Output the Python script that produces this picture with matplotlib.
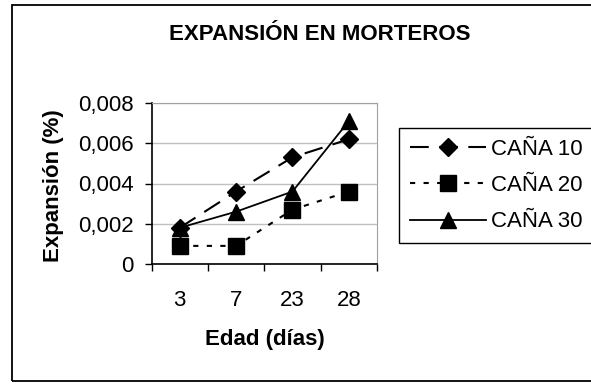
import numpy as np
import matplotlib
matplotlib.use("Agg")
import matplotlib.pyplot as plt
from matplotlib.ticker import FuncFormatter, FixedLocator
from matplotlib.patches import Rectangle

plt.rcParams['font.family'] = ['Liberation Sans', 'DejaVu Sans']

# Data
edades = ["3", "7", "23", "28"]
cana10 = [0.0018, 0.0036, 0.0053, 0.0062]
cana20 = [0.0009, 0.0009, 0.0027, 0.0036]
cana30 = [0.0018, 0.0026, 0.0036, 0.0071]
series_names = ["CAÑA 10", "CAÑA 20", "CAÑA 30"]

W, H = 591, 384
fig = plt.figure(figsize=(W/100, H/100), dpi=100)
ax = fig.add_axes([151.5/W, 1-264/H, (377-151.5)/W, (264-103)/H])

x = np.arange(len(edades))
ax.plot(x, cana10, color="black", lw=1.5, dashes=(9, 5), marker="D", ms=9,
        label=series_names[0])
ax.plot(x, cana20, color="black", lw=1.5, dashes=(2.5, 4), marker="s", ms=11,
        label=series_names[1])
ax.plot(x, cana30, color="black", lw=1.3, ls="-", marker="^", ms=11,
        label=series_names[2])

ax.set_xlim(-0.5, 3.5)
ax.set_ylim(0, 0.008)

# category axis: ticks between categories, labels centred
ax.xaxis.set_major_locator(FixedLocator(np.arange(-0.5, 4, 1)))
ax.xaxis.set_minor_locator(FixedLocator(x))
ax.set_xticklabels([], minor=False)
ax.set_xticklabels(edades, minor=True)
ax.tick_params(axis="x", which="major", direction="out", length=5, width=1, color="black")
ax.tick_params(axis="x", which="minor", length=0, pad=19, labelsize=16)

ax.set_yticks(np.arange(0, 0.0081, 0.002))
ax.yaxis.set_major_formatter(FuncFormatter(
    lambda v, p: "0" if v == 0 else ("%.3f" % v).replace(".", ",")))
ax.tick_params(axis="y", direction="out", length=5, width=1, pad=8, labelsize=16)

ax.grid(axis="y", color="#c0c0c0", lw=1)
ax.set_axisbelow(True)
for s in ["top", "right"]:
    ax.spines[s].set_color("#a0a0a0")
for s in ["left", "bottom"]:
    ax.spines[s].set_color("black")
    ax.spines[s].set_linewidth(1.2)

fig.text(320/W, 1-35/H, "EXPANSIÓN EN MORTEROS", ha="center", va="center",
         fontsize=16, fontweight="bold")
fig.text(265/W, 1-340/H, "Edad (días)", ha="center", va="center",
         fontsize=16, fontweight="bold")
fig.text(54/W, 1-186/H, "Expansión (%)", ha="center", va="center",
         rotation=90, fontsize=16, fontweight="bold")

leg = ax.legend(loc="upper left", bbox_to_anchor=(399/W, 1-128/H),
                bbox_transform=fig.transFigure, borderaxespad=0,
                fontsize=16, handlelength=3.4, handletextpad=0.25,
                borderpad=0.5, labelspacing=0.68, fancybox=False,
                framealpha=1, edgecolor="black")
leg.get_frame().set_linewidth(1)

# outer chart border
fig.patches.append(Rectangle((12/W, 1-381/H), 1.0, 376/H, transform=fig.transFigure,
                             fill=False, edgecolor="black", lw=1.3))

fig.savefig("out.png", dpi=100)
